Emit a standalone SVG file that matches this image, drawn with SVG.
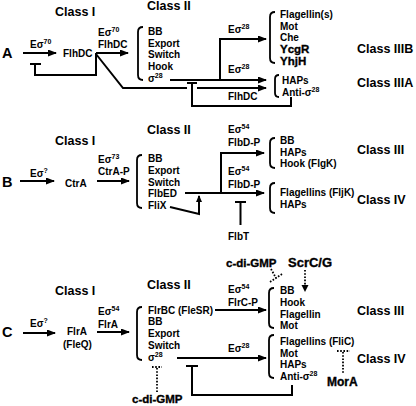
<svg xmlns="http://www.w3.org/2000/svg" width="416" height="406" viewBox="0 0 416 406">
<defs>
<style>
text{font-family:"Liberation Sans",Arial,Helvetica,sans-serif;font-weight:bold;fill:#000}
.cls{font-size:12.5px}
.lt{font-size:14.5px}
.it{font-size:10px}
.big{font-size:11.5px;font-weight:900;stroke:#000;stroke-width:0.35}
.sup{font-size:7px}
.ln{fill:none;stroke:#000;stroke-width:2}
.br{fill:none;stroke:#000;stroke-width:1.8}
.dt{fill:none;stroke:#000;stroke-width:1.8;stroke-dasharray:1.6 1.6}
</style>
<marker id="ah" markerUnits="userSpaceOnUse" markerWidth="9" markerHeight="8" refX="8" refY="3.5" orient="auto">
<path d="M0,0 L9,3.5 L0,7 z" fill="#000"/>
</marker>
<marker id="ahs" markerUnits="userSpaceOnUse" markerWidth="7" markerHeight="6" refX="6" refY="3" orient="auto">
<path d="M0,0 L7,3 L0,6 z" fill="#000"/>
</marker>
</defs>

<!-- Panel A -->
<g id="A-label"><text class="lt" x="2" y="58">A</text></g>
<g id="A-classI"><text class="cls" x="55" y="16">Class I</text></g>
<g id="A-classII"><text class="cls" x="147" y="10">Class II</text></g>
<g id="A-flhdc"><text class="it" x="63" y="57">FlhDC</text></g>
<g id="A-classII-genes">
<path class="br" d="M143,27 Q138,27 138,32 L138,75 Q138,80 143,80"/>
<text class="it" x="148" y="35">BB</text>
<text class="it" x="148" y="47">Export</text>
<text class="it" x="148" y="58">Switch</text>
<text class="it" x="148" y="70">Hook</text>
<text class="it" x="148" y="82">σ<tspan class="sup" dy="-4">28</tspan></text>
</g>
<g id="A-classIIIB-genes">
<path class="br" d="M275,12 Q270,12 270,17 L270,58 Q270,63 275,63"/>
<text class="it" x="280" y="18">Flagellin(s)</text>
<text class="it" x="280" y="30">Mot</text>
<text class="it" x="280" y="41">Che</text>
<text class="big" x="280" y="53">YcgR</text>
<text class="big" x="280" y="65">YhjH</text>
</g>
<g id="A-classIIIB"><text class="cls" x="357" y="53">Class IIIB</text></g>
<g id="A-classIIIA-genes">
<path class="br" d="M279,75 Q275,75 275,79 L275,93 Q275,97 279,97"/>
<text class="it" x="282" y="84">HAPs</text>
<text class="it" x="282" y="96">Anti-σ<tspan class="sup" dy="-4">28</tspan></text>
</g>
<g id="A-classIIIA"><text class="cls" x="357" y="87">Class IIIA</text></g>

<!-- Panel B -->
<g id="B-label"><text class="lt" x="2" y="187">B</text></g>
<g id="B-classI"><text class="cls" x="55" y="145">Class I</text></g>
<g id="B-classII"><text class="cls" x="147" y="134">Class II</text></g>
<g id="B-ctra"><text class="it" x="65" y="187">CtrA</text></g>
<g id="B-classII-genes">
<path class="br" d="M142,155 Q137,155 137,160 L137,203 Q137,208 142,208"/>
<text class="it" x="148" y="162">BB</text>
<text class="it" x="148" y="174">Export</text>
<text class="it" x="148" y="186">Switch</text>
<text class="it" x="148" y="197">FlbED</text>
<text class="it" x="148" y="209">FliX</text>
</g>
<g id="B-classIII-genes">
<path class="br" d="M275,138 Q270,138 270,143 L270,163 Q270,168 275,168"/>
<text class="it" x="280" y="144">BB</text>
<text class="it" x="280" y="156">HAPs</text>
<text class="it" x="280" y="167">Hook (FlgK)</text>
</g>
<g id="B-classIII"><text class="cls" x="357" y="154">Class III</text></g>
<g id="B-classIV-genes">
<path class="br" d="M275,183 Q270,183 270,188 L270,208 Q270,213 275,213"/>
<text class="it" x="280" y="196">Flagellins (FljK)</text>
<text class="it" x="280" y="208">HAPs</text>
</g>
<g id="B-classIV"><text class="cls" x="357" y="204">Class IV</text></g>
<g id="B-flbt"><text class="it" x="228" y="240">FlbT</text></g>

<!-- Panel C -->
<g id="C-label"><text class="lt" x="2" y="337">C</text></g>
<g id="C-classI"><text class="cls" x="55" y="295">Class I</text></g>
<g id="C-classII"><text class="cls" x="147" y="289">Class II</text></g>
<g id="C-flra"><text class="it" x="67" y="335">FlrA</text><text class="it" x="63" y="348">(FleQ)</text></g>
<g id="C-classII-genes">
<path class="br" d="M142,307 Q137,307 137,312 L137,355 Q137,360 142,360"/>
<text class="it" x="148" y="314">FlrBC (FleSR)</text>
<text class="it" x="148" y="325">BB</text>
<text class="it" x="148" y="337">Export</text>
<text class="it" x="148" y="349">Switch</text>
<text class="it" x="148" y="361">σ<tspan class="sup" dy="-4">28</tspan></text>
</g>
<g id="C-classIII-genes">
<path class="br" d="M274,288 Q269,288 269,293 L269,323 Q269,328 274,328"/>
<text class="it" x="280" y="294">BB</text>
<text class="it" x="280" y="306">Hook</text>
<text class="it" x="280" y="318">Flagellin</text>
<text class="it" x="280" y="329">Mot</text>
</g>
<g id="C-classIII"><text class="cls" x="357" y="315">Class III</text></g>
<g id="C-classIV-genes">
<path class="br" d="M274,335 Q269,335 269,340 L269,373 Q269,378 274,378"/>
<text class="it" x="280" y="345">Flagellins (FliC)</text>
<text class="it" x="280" y="357">Mot</text>
<text class="it" x="280" y="368">HAPs</text>
<text class="it" x="280" y="380">Anti-σ<tspan class="sup" dy="-4">28</tspan></text>
</g>
<g id="C-classIV"><text class="cls" x="357" y="363">Class IV</text></g>
<g id="C-cdigmp-top"><text class="big" x="226" y="267">c-di-GMP</text></g>
<g id="C-scrcg"><text class="big" x="288" y="267" style="font-size:13px">ScrC/G</text></g>
<g id="C-cdigmp-bottom"><text class="big" x="132" y="403">c-di-GMP</text></g>
<g id="C-mora"><text class="big" x="327" y="386" style="font-size:12px">MorA</text></g>

<!-- Connectors -->
<g id="connectors">
<!-- A -->
<line class="ln" x1="23" y1="53" x2="56" y2="53" marker-end="url(#ah)"/>
<text class="it" x="30" y="48">Eσ<tspan class="sup" dy="-4">70</tspan></text>
<line class="ln" x1="96" y1="53" x2="128" y2="53" marker-end="url(#ah)"/>
<text class="it" x="98" y="36">Eσ<tspan class="sup" dy="-4">70</tspan></text>
<text class="it" x="98" y="48">FlhDC</text>
<path class="ln" d="M96,53 L96,75 L35,75 L35,64"/>
<line class="ln" x1="30" y1="64" x2="41" y2="64"/>
<path class="ln" d="M96,54 L123,88 L187,88"/>
<line class="ln" x1="197" y1="88" x2="266" y2="88" marker-end="url(#ah)"/>
<line class="ln" x1="170" y1="80" x2="266" y2="80" marker-end="url(#ah)"/>
<path class="ln" d="M220,80 L220,39 L266,39" marker-end="url(#ah)"/>
<text class="it" x="228" y="33">Eσ<tspan class="sup" dy="-4">28</tspan></text>
<text class="it" x="228" y="73">Eσ<tspan class="sup" dy="-4">28</tspan></text>
<text class="it" x="228" y="100">FlhDC</text>
<line class="ln" x1="187" y1="83" x2="197" y2="83"/>
<path class="ln" d="M192,83 L192,106 L291,106 L291,97"/>
<!-- B -->
<line class="ln" x1="20" y1="181" x2="54" y2="181" marker-end="url(#ah)"/>
<text class="it" x="30" y="177">Eσ<tspan class="sup" dy="-4">?</tspan></text>
<line class="ln" x1="97" y1="181" x2="129" y2="181" marker-end="url(#ah)"/>
<text class="it" x="98" y="163">Eσ<tspan class="sup" dy="-4">73</tspan></text>
<text class="it" x="98" y="175">CtrA-P</text>
<line class="ln" x1="185" y1="193" x2="264" y2="193" marker-end="url(#ah)"/>
<path class="ln" d="M221,193 L221,153 L264,153" marker-end="url(#ah)"/>
<text class="it" x="228" y="133">Eσ<tspan class="sup" dy="-4">54</tspan></text>
<text class="it" x="228" y="146">FlbD-P</text>
<text class="it" x="228" y="175">Eσ<tspan class="sup" dy="-4">54</tspan></text>
<text class="it" x="228" y="188">FlbD-P</text>
<path class="ln" d="M170,207 L199,214 L199,196" marker-end="url(#ahs)"/>
<line class="ln" x1="235" y1="202" x2="246" y2="202"/>
<line class="ln" x1="240.5" y1="202" x2="240.5" y2="225"/>
<!-- C -->
<line class="ln" x1="23" y1="333" x2="55" y2="333" marker-end="url(#ah)"/>
<text class="it" x="30" y="327">Eσ<tspan class="sup" dy="-4">?</tspan></text>
<line class="ln" x1="97" y1="332" x2="129" y2="332" marker-end="url(#ah)"/>
<text class="it" x="98" y="315">Eσ<tspan class="sup" dy="-4">54</tspan></text>
<text class="it" x="98" y="328">FlrA</text>
<line class="ln" x1="215" y1="310" x2="266" y2="310" marker-end="url(#ah)"/>
<text class="it" x="228" y="293">Eσ<tspan class="sup" dy="-4">54</tspan></text>
<text class="it" x="228" y="306">FlrC-P</text>
<line class="ln" x1="177" y1="358" x2="266" y2="358" marker-end="url(#ah)"/>
<text class="it" x="228" y="352">Eσ<tspan class="sup" dy="-4">28</tspan></text>
<line class="ln" x1="186" y1="366" x2="198" y2="366"/>
<path class="ln" d="M192,366 L192,395 L292,395 L292,385"/>
<line class="dt" x1="157" y1="368" x2="157" y2="392"/>
<line class="dt" x1="152" y1="367" x2="162" y2="367"/>
<line class="dt" x1="271" y1="269" x2="276" y2="278"/>
<line class="dt" x1="282" y1="274" x2="270" y2="282"/>
<line class="dt" x1="305" y1="270" x2="305" y2="286"/>
<path d="M301.5,285 L305,292 L308.5,285 z" fill="#000"/>
<line class="dt" x1="343" y1="352" x2="343" y2="374"/>
<line class="dt" x1="337" y1="351" x2="350" y2="351"/>
</g>
</svg>
